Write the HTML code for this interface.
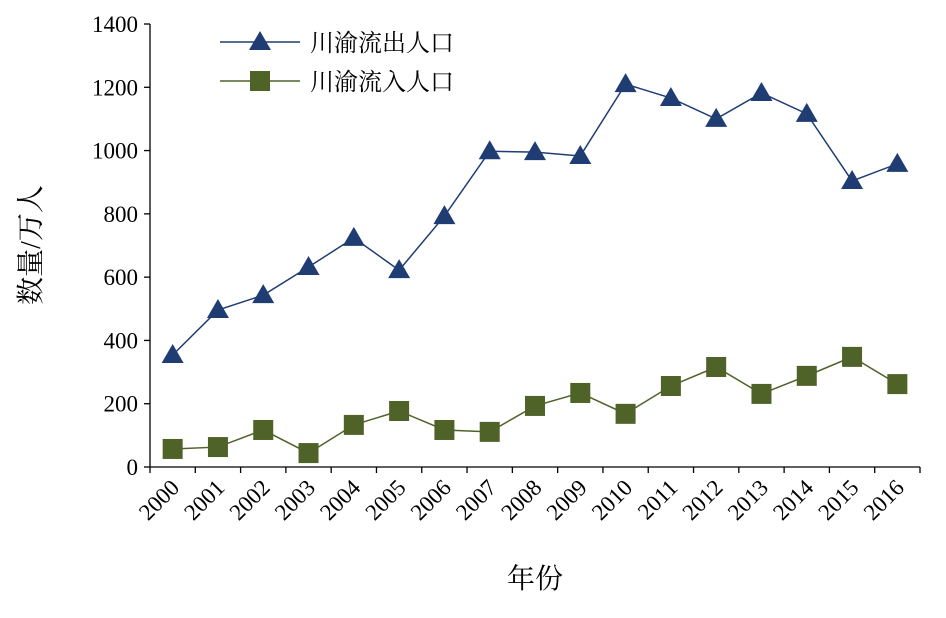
<!DOCTYPE html>
<html><head><meta charset="utf-8"><style>
body{margin:0;background:#fff}
text{font-family:"Liberation Serif","Noto Serif CJK SC",serif;fill:#000}
</style></head><body>
<svg width="946" height="613">
<g id="g"></g>
</svg>
<script>
const years=["2000","2001","2002","2003","2004","2005","2006","2007","2008","2009","2010","2011","2012","2013","2014","2015","2016"];
const outflow=[354,496,543,632,724,622,793,998,995,983,1210,1166,1100,1182,1116,904,958];
const inflow=[57,63,117,44,133,177,117,111,193,234,168,256,316,231,288,348,262];
const yTicks=[0,200,400,600,800,1000,1200,1400];
const NS="http://www.w3.org/2000/svg";
const g=document.getElementById('g');
const x0=150,x1=920,yb=467,yt=24,ymax=1400;
const step=(x1-x0)/years.length;
const X=i=>x0+step*(i+0.5);
const Y=v=>yb-(v/ymax)*(yb-yt);
function el(t,a,p){const e=document.createElementNS(NS,t);for(const k in a)e.setAttribute(k,a[k]);(p||g).appendChild(e);return e;}
let ax=el('line',{x1:x0,y1:yt,x2:x0,y2:yb,stroke:'#000','stroke-width':1.3});


ax=el('line',{x1:x0,y1:yb,x2:x1,y2:yb,stroke:'#000','stroke-width':1.3});


yTicks.forEach(v=>{
 const t=el('line',{x1:x0-6,y1:Y(v),x2:x0,y2:Y(v),stroke:'#000','stroke-width':1.3});
 
 
 const l=el('text',{x:x0-12,y:Y(v)+8,'text-anchor':'end','font-size':23});
 l.textContent=v;
 
 
});
for(let i=0;i<=years.length;i++){
 const t=el('line',{x1:x0+step*i,y1:yb,x2:x0+step*i,y2:yb+6,stroke:'#000','stroke-width':1.3});
 
 
}
years.forEach((y,i)=>{
 const l=el('text',{x:X(i)+8,y:yb+22,'text-anchor':'end','font-size':23,transform:`rotate(-45 ${X(i)+8} ${yb+22})`});
 l.textContent=y;
 
 
});
function series(vals,color,shape,name){
 const p=el('polyline',{points:vals.map((v,i)=>X(i)+','+Y(v)).join(' '),fill:'none',stroke:color,'stroke-width':1.5});
 
 
 vals.forEach((v,i)=>{
  const m=marker(X(i),Y(v),color,shape);
  
  
 });
}
function marker(cx,cy,color,shape){
 if(shape==='tri') return el('polygon',{points:`${cx},${cy-11} ${cx-11},${cy+8} ${cx+11},${cy+8}`,fill:color});
 return el('rect',{x:cx-10,y:cy-10,width:20,height:20,fill:color});
}
series(outflow,'#1f3d73','tri','outflow');
series(inflow,'#4f6228','sq','inflow');
// legend
[[42,'#1f3d73','tri','川渝流出人口','legend-outflow'],[81,'#4f6228','sq','川渝流入人口','legend-inflow']].forEach(r=>{
 const ln=el('line',{x1:220,y1:r[0],x2:300,y2:r[0],stroke:r[1],'stroke-width':1.5});
 
 
 const m=marker(260,r[0],r[1],r[2]);
 
 
 const t=el('text',{x:310,y:r[0]+9,'font-size':24});
 t.textContent=r[3];
 
 
});
let t=el('text',{x:40,y:245,'text-anchor':'middle','font-size':28,transform:'rotate(-90 40 245)'});
t.textContent='数量/万人';


t=el('text',{x:535,y:588,'text-anchor':'middle','font-size':28});
t.textContent='年份';


</script>
</body></html>
